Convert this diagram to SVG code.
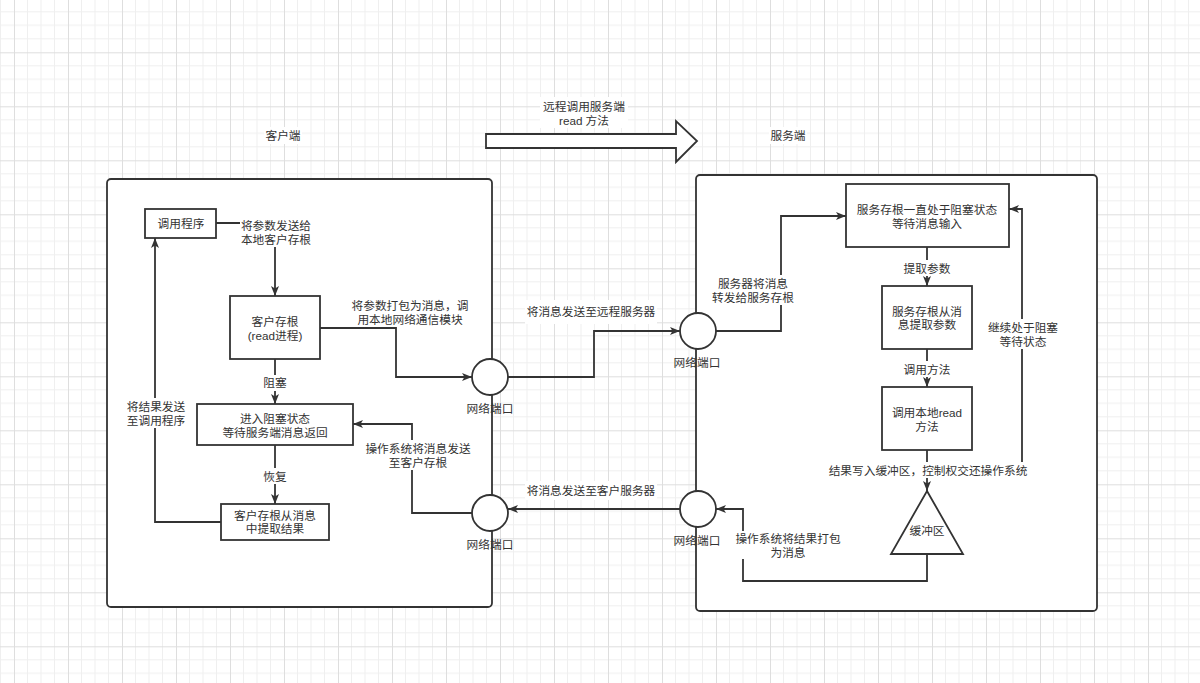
<svg xmlns="http://www.w3.org/2000/svg" width="1200" height="683" viewBox="0 0 1200 683">
<defs>
<pattern id="grid" patternUnits="userSpaceOnUse" x="14" y="-1.7" width="54" height="54">
<path d="M13.5,0V54M27,0V54M40.5,0V54M0,13.5H54M0,27H54M0,40.5H54" stroke="#efefef" stroke-width="1" fill="none"/>
<path d="M0.5,0V54M0,0.5H54" stroke="#dedede" stroke-width="1" fill="none"/>
</pattern>
<marker id="arr" viewBox="0 0 10 8" refX="10" refY="4" markerWidth="10" markerHeight="8" markerUnits="userSpaceOnUse" orient="auto">
<path d="M0,0 L10,4 L0,8 L2.5,4 z" fill="#333"/>
</marker>
<style>
.box{fill:#fff;stroke:#333;stroke-width:1.8}
.cont{fill:#fff;stroke:#333;stroke-width:1.8}
.edge{fill:none;stroke:#333;stroke-width:1.8;marker-end:url(#arr)}
.line{fill:none;stroke:#333;stroke-width:1.8}
.t{font-family:"Liberation Sans","Noto Sans CJK SC",sans-serif;font-size:11.7px;fill:#333;text-anchor:middle;dominant-baseline:central}
.bg{fill:#fff}
</style>
</defs>
<rect x="0" y="0" width="1200" height="683" fill="#fff"/>
<rect x="0" y="0" width="1200" height="683" fill="url(#grid)"/>

<!-- containers -->
<g id="client-container"><rect class="cont" x="107" y="179" width="385" height="428" rx="4"/></g>
<g id="server-container"><rect class="cont" x="696" y="175" width="401" height="436" rx="4"/></g>

<!-- titles -->
<g id="title-client"><rect class="bg" x="264" y="127" width="38" height="17"/><text class="t" x="283" y="135">客户端</text></g>
<g id="title-server"><rect class="bg" x="769" y="127" width="38" height="17"/><text class="t" x="788" y="135">服务端</text></g>
<g id="big-arrow">
<rect class="bg" x="540" y="97" width="88" height="31"/>
<text class="t" x="584" y="106">远程调用服务端</text>
<text class="t" x="584" y="120">read 方法</text>
<polygon points="486,134 676,134 676,121 697,141 676,162 676,148 486,148" fill="#fff" stroke="#333" stroke-width="1.8"/>
</g>

<!-- connectors -->
<g id="connectors">
<path class="edge" d="M216,223 H275 V296"/>
<path class="edge" d="M320,328 H396 V377 H472"/>
<path class="edge" d="M275,359 V404"/>
<path class="edge" d="M275,445 V504"/>
<path class="edge" d="M221,522 H155 V238"/>
<path class="edge" d="M472,513 H412 V424 H353"/>
<path class="edge" d="M508,377 H594 V331 H680"/>
<path class="edge" d="M680,509 H508"/>
<path class="edge" d="M716,331 H781 V216 H846"/>
<path class="edge" d="M927,247 V286"/>
<path class="edge" d="M927,349 V387"/>
<path class="edge" d="M927,450 V491"/>
<path class="edge" d="M927,554 V581 H743 V509 H716"/>
<path class="edge" d="M1022,470 V209 H1009"/>

<g id="edge-labels">
<rect class="bg" x="240" y="217" width="71" height="30"/>
<text class="t" x="276" y="225">将参数发送给</text>
<text class="t" x="276" y="239">本地客户存根</text>

<rect class="bg" x="350" y="297" width="120" height="30"/>
<text class="t" x="410" y="305">将参数打包为消息，调</text>
<text class="t" x="410" y="319">用本地网络通信模块</text>

<rect class="bg" x="262" y="375" width="26" height="16"/>
<text class="t" x="275" y="382">阻塞</text>

<rect class="bg" x="262" y="468" width="26" height="16"/>
<text class="t" x="275" y="476">恢复</text>

<rect class="bg" x="126" y="398" width="61" height="30"/>
<text class="t" x="156" y="406">将结果发送</text>
<text class="t" x="156" y="420">至调用程序</text>

<rect class="bg" x="364" y="440" width="108" height="30"/>
<text class="t" x="418" y="448">操作系统将消息发送</text>
<text class="t" x="418" y="462">至客户存根</text>

<rect class="bg" x="525" y="300" width="132" height="24"/>
<text class="t" x="591" y="311">将消息发送至远程服务器</text>

<rect class="bg" x="525" y="481" width="132" height="19"/>
<text class="t" x="591" y="490">将消息发送至客户服务器</text>

<rect class="bg" x="711" y="275" width="84" height="30"/>
<text class="t" x="753" y="283">服务器将消息</text>
<text class="t" x="753" y="297">转发给服务存根</text>

<rect class="bg" x="903" y="260" width="48" height="16"/>
<text class="t" x="927" y="268">提取参数</text>

<rect class="bg" x="903" y="361" width="48" height="16"/>
<text class="t" x="927" y="369">调用方法</text>

<rect class="bg" x="828" y="462" width="200" height="16"/>
<text class="t" x="928" y="470">结果写入缓冲区，控制权交还操作系统</text>

<rect class="bg" x="987" y="319" width="72" height="30"/>
<text class="t" x="1023" y="327">继续处于阻塞</text>
<text class="t" x="1023" y="341">等待状态</text>

<rect class="bg" x="735" y="531" width="106" height="28"/>
<text class="t" x="788" y="538">操作系统将结果打包</text>
<text class="t" x="788" y="552">为消息</text>
</g>
</g>

<!-- client nodes -->
<g id="caller"><rect class="box" x="145" y="209" width="71" height="29"/><text class="t" x="181" y="223">调用程序</text></g>
<g id="client-stub"><rect class="box" x="230" y="296" width="90" height="63"/><text class="t" x="275" y="321">客户存根</text><text class="t" x="275" y="335">(read进程)</text></g>
<g id="block-wait"><rect class="box" x="197" y="404" width="156" height="41"/><text class="t" x="275" y="418">进入阻塞状态</text><text class="t" x="275" y="432">等待服务端消息返回</text></g>
<g id="extract-result"><rect class="box" x="221" y="504" width="108" height="36"/><text class="t" x="275" y="515">客户存根从消息</text><text class="t" x="275" y="528">中提取结果</text></g>
<g id="port-client-send"><circle cx="490" cy="377" r="18" fill="#fff" stroke="#333" stroke-width="1.8"/><text class="t" x="490" y="408">网络端口</text></g>
<g id="port-client-recv"><circle cx="490" cy="513" r="18" fill="#fff" stroke="#333" stroke-width="1.8"/><text class="t" x="490" y="544">网络端口</text></g>

<!-- server nodes -->
<g id="port-server-recv"><circle cx="698" cy="331" r="18" fill="#fff" stroke="#333" stroke-width="1.8"/><text class="t" x="697" y="362">网络端口</text></g>
<g id="port-server-send"><circle cx="698" cy="509" r="18" fill="#fff" stroke="#333" stroke-width="1.8"/><text class="t" x="697" y="540">网络端口</text></g>
<g id="server-stub-wait"><rect class="box" x="846" y="184" width="163" height="63"/><text class="t" x="927" y="209">服务存根一直处于阻塞状态</text><text class="t" x="927" y="223">等待消息输入</text></g>
<g id="server-extract"><rect class="box" x="882" y="286" width="90" height="63"/><text class="t" x="927" y="311">服务存根从消</text><text class="t" x="927" y="324">息提取参数</text></g>
<g id="local-read"><rect class="box" x="882" y="387" width="90" height="63"/><text class="t" x="927" y="412">调用本地read</text><text class="t" x="927" y="426">方法</text></g>
<g id="buffer"><polygon points="927,491 963,554 891,554" fill="#fff" stroke="#333" stroke-width="1.8"/><text class="t" x="927" y="530">缓冲区</text></g>
</svg>
